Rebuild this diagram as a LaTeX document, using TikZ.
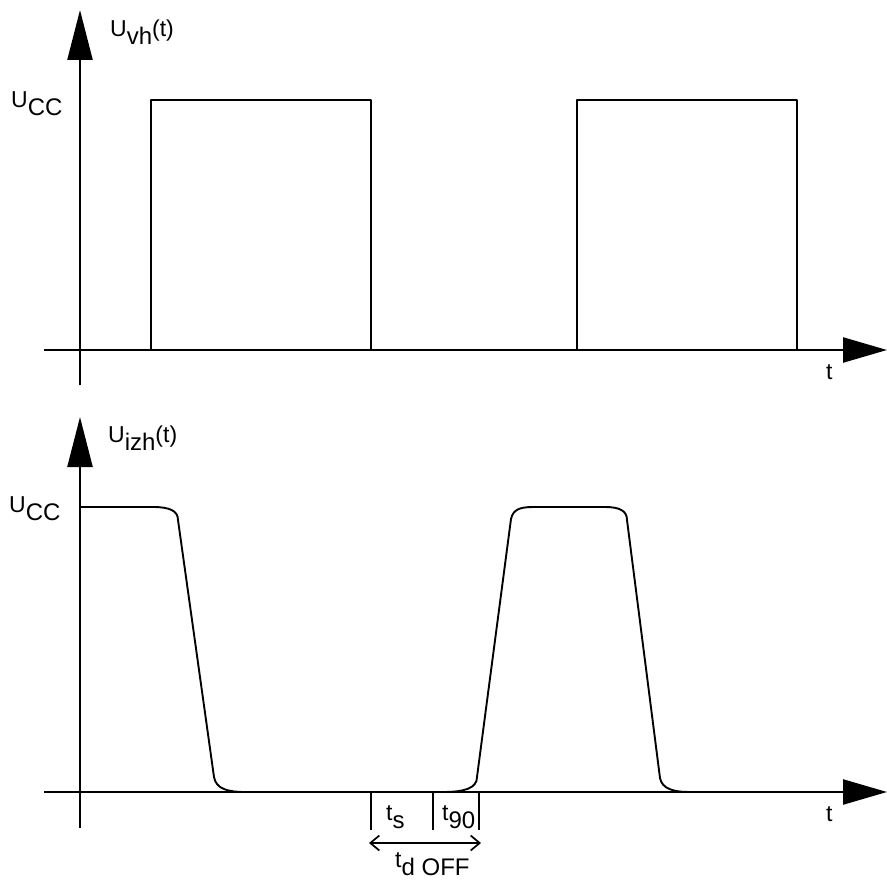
\documentclass[tikz,border=0pt]{standalone}
\usepackage{fontspec}
\setmainfont{Liberation Sans}
\usetikzlibrary{arrows.meta}
\newcommand{\dnsub}[1]{\raisebox{-8pt}{\fontsize{24pt}{26pt}\selectfont #1}}
\tikzset{
  axis/.style={line width=2.4pt, -{Triangle[length=50pt,width=25pt]}},
  haxis/.style={line width=2.4pt, -{Triangle[length=44pt,width=25pt]}},
  sig/.style={line width=1.9pt, line join=round},
  tick/.style={line width=1.7pt},
  lbl/.style={inner sep=0pt, anchor=base west, font=\fontsize{23pt}{27pt}\selectfont},
  dim/.style={line width=1.7pt, {Straight Barb[length=9pt,width=15pt]}-{Straight Barb[length=9pt,width=15pt]}}
}
\begin{document}
\begin{tikzpicture}[x=1pt,y=-1pt]
\path[use as bounding box] (0,0) rectangle (887,880);
% ---------- top plot ----------
\coordinate (ya1) at (80,385);
\coordinate (yt1) at (80,10);
\coordinate (xa1) at (44,350);
\coordinate (xt1) at (887,350);
\draw[axis] (ya1) -- (yt1);
\draw[haxis] (xa1) -- (xt1);
\draw[sig] (151,350) -- (151,100) -- (371,100) -- (371,350);
\draw[sig] (577,350) -- (577,100) -- (797,100) -- (797,350);
\node[lbl] (uvh) at (110,37) {U\dnsub{vh}(t)};
\node[lbl] (ucc1) at (11,108) {U\dnsub{CC}};
\node[lbl] (t1) at (826,379) {t};
% ---------- bottom plot ----------
\coordinate (ya2) at (80,828);
\coordinate (yt2) at (80,417);
\coordinate (xa2) at (44,792);
\coordinate (xt2) at (887,792);
\draw[axis] (ya2) -- (yt2);
\draw[haxis] (xa2) -- (xt2);
\draw[sig] (80,507) -- (153,507) .. controls (170,507) and (178,511) .. (178,520)
  -- (214,777) .. controls (216,789) and (228,792) .. (245,792);
\draw[sig] (443,792) .. controls (465,792) and (477,788) .. (477,777)
  -- (511,519) .. controls (513,510) and (519,507) .. (533,507)
  -- (605,507) .. controls (620,507) and (627,511) .. (627,520)
  -- (660,778) .. controls (662,789) and (674,792) .. (689,792);
\node[lbl] (uizh) at (108,442) {U\dnsub{izh}(t)};
\node[lbl] (ucc2) at (9,512) {U\dnsub{CC}};
\node[lbl] (t2) at (826,821) {t};
% ticks and timing
\coordinate (k1a) at (371,792); \coordinate (k1b) at (371,830);
\coordinate (k2a) at (433,792); \coordinate (k2b) at (433,830);
\coordinate (k3a) at (479,792); \coordinate (k3b) at (479,830);
\draw[tick] (k1a) -- (k1b);
\draw[tick] (k2a) -- (k2b);
\draw[tick] (k3a) -- (k3b);
\coordinate (da) at (369,843);
\coordinate (db) at (481,843);
\draw[dim] (da) -- (db);
\node[lbl] (ts) at (386,820) {t\dnsub{s}};
\node[lbl] (t90) at (442,820) {t\dnsub{90}};
\node[lbl] (tdoff) at (395,867) {t\dnsub{d OFF}};
\end{tikzpicture}
\end{document}
